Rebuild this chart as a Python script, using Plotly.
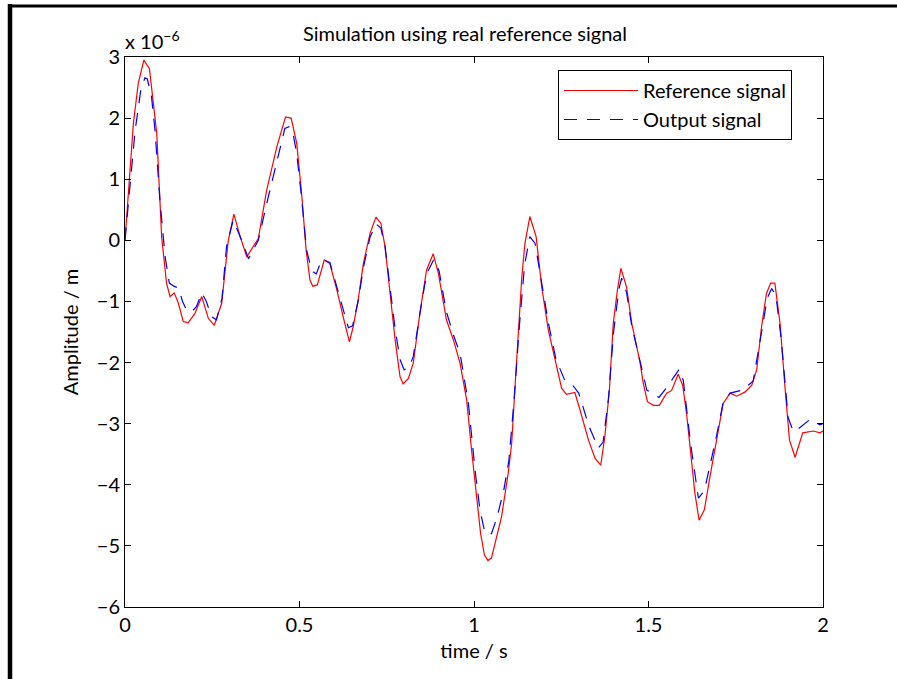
import plotly.graph_objects as go

# Reference signal (time in s, amplitude in 1e-6 m)
t_ref = [0, 0.014, 0.024, 0.038, 0.054, 0.07, 0.091, 0.105, 0.119, 0.129, 0.141, 0.153, 0.167, 0.181, 0.2, 0.22,
         0.239, 0.256, 0.277, 0.296, 0.312, 0.33, 0.349, 0.382, 0.406, 0.435, 0.46, 0.476, 0.492, 0.506, 0.519,
         0.53, 0.538, 0.551, 0.561, 0.571, 0.587, 0.607, 0.625, 0.643, 0.654, 0.668, 0.683, 0.702, 0.719, 0.733,
         0.745, 0.759, 0.774, 0.788, 0.797, 0.812, 0.826, 0.845, 0.864, 0.883, 0.898, 0.921, 0.941, 0.96, 0.979,
         0.993, 1.008, 1.019, 1.03, 1.04, 1.05, 1.065, 1.079, 1.098, 1.108, 1.117, 1.127, 1.137, 1.146, 1.16,
         1.178, 1.194, 1.213, 1.232, 1.251, 1.265, 1.289, 1.304, 1.328, 1.347, 1.363, 1.375, 1.388, 1.399, 1.411,
         1.421, 1.437, 1.452, 1.476, 1.485, 1.497, 1.514, 1.531, 1.552, 1.566, 1.585, 1.598, 1.609, 1.624, 1.633,
         1.645, 1.66, 1.676, 1.695, 1.714, 1.734, 1.753, 1.777, 1.796, 1.81, 1.824, 1.838, 1.85, 1.862, 1.877,
         1.891, 1.904, 1.92, 1.93, 1.942, 1.973, 1.991, 2.0]
y_ref = [0, 1.04, 1.91, 2.57, 2.95, 2.81, 1.75, 0.06, -0.70, -0.92, -0.86, -1.03, -1.33, -1.35, -1.2, -0.92,
         -1.28, -1.39, -1.03, 0.0, 0.43, 0.06, -0.27, 0.03, 0.82, 1.53, 2.02, 2.0, 1.59, 0.77, -0.16,
         -0.65, -0.75, -0.73, -0.54, -0.32, -0.38, -0.81, -1.25, -1.66, -1.41, -0.98, -0.38, 0.11, 0.38, 0.28,
         -0.1, -0.87, -1.63, -2.23, -2.35, -2.26, -2.01, -1.19, -0.49, -0.22, -0.54, -1.30, -1.63, -2.01, -2.61,
         -3.43, -4.25, -4.80, -5.15, -5.24, -5.2, -4.85, -4.52, -3.81, -3.32, -2.45, -1.52, -0.60, -0.05, 0.39,
         0.06, -0.76, -1.47, -1.96, -2.42, -2.52, -2.49, -2.78, -3.27, -3.57, -3.68, -3.21, -2.45, -1.36, -0.81,
         -0.46, -0.76, -1.36, -2.0, -2.34, -2.64, -2.70, -2.70, -2.50, -2.46, -2.19, -2.37, -2.83, -3.60, -4.14,
         -4.58, -4.41, -3.87, -3.27, -2.67, -2.50, -2.55, -2.48, -2.37, -2.12, -1.41, -0.87, -0.70, -0.70, -1.36,
         -2.40, -3.27, -3.55, -3.38, -3.15, -3.12, -3.15, -3.12]

# Output signal
t_out = [0, 0.014, 0.029, 0.045, 0.057, 0.064, 0.076, 0.086, 0.1, 0.115, 0.127, 0.14, 0.153, 0.165, 0.177, 0.191,
         0.205, 0.22, 0.233, 0.248, 0.262, 0.278, 0.291, 0.31, 0.33, 0.354, 0.382, 0.406, 0.435, 0.458, 0.47,
         0.48, 0.492, 0.506, 0.52, 0.535, 0.548, 0.564, 0.587, 0.607, 0.625, 0.64, 0.652, 0.668, 0.683, 0.702,
         0.719, 0.733, 0.745, 0.759, 0.774, 0.788, 0.8, 0.815, 0.826, 0.845, 0.864, 0.885, 0.9, 0.92, 0.941,
         0.96, 0.984, 1.003, 1.017, 1.03, 1.04, 1.05, 1.065, 1.085, 1.1, 1.115, 1.13, 1.145, 1.16, 1.175, 1.194,
         1.213, 1.235, 1.26, 1.28, 1.3, 1.33, 1.356, 1.37, 1.385, 1.4, 1.415, 1.423, 1.437, 1.452, 1.476, 1.495,
         1.53, 1.552, 1.588, 1.6, 1.62, 1.643, 1.66, 1.676, 1.695, 1.714, 1.734, 1.77, 1.8, 1.824, 1.84, 1.853,
         1.865, 1.88, 1.9, 1.915, 1.93, 1.963, 1.991, 2.0]
y_out = [0, 0.82, 1.8, 2.45, 2.66, 2.64, 2.35, 1.8, 0.66, -0.27, -0.70, -0.75, -0.78, -1.0, -1.15, -1.17,
         -1.08, -0.86, -1.0, -1.25, -1.30, -0.95, -0.1, 0.33, 0.06, -0.3, 0.0, 0.6, 1.31, 1.83, 1.86,
         1.8, 1.42, 0.7, -0.15, -0.5, -0.55, -0.31, -0.36, -0.75, -1.1, -1.43, -1.40, -1.0, -0.45, 0.05,
         0.27, 0.2, -0.1, -0.75, -1.45, -1.95, -2.12, -2.07, -1.9, -1.2, -0.55, -0.31, -0.5, -1.15, -1.55,
         -1.85, -2.67, -3.76, -4.41, -4.75, -4.82, -4.8, -4.55, -4.1, -3.6, -2.6, -1.4, -0.4, 0.06, -0.05, -0.7,
         -1.35, -1.95, -2.29, -2.35, -2.5, -3.05, -3.40, -3.3, -2.6, -1.5, -0.8, -0.62, -0.85, -1.4, -2.0, -2.45,
         -2.57, -2.41, -2.11, -2.3, -3.3, -4.22, -4.1, -3.7, -3.2, -2.65, -2.5, -2.45, -2.3, -1.5, -0.95, -0.79,
         -0.9, -1.6, -2.9, -3.13, -3.08, -2.93, -3.02, -3.0]

x_ticks = [0, 0.5, 1, 1.5, 2]
x_tick_text = ["0", "0.5", "1", "1.5", "2"]
y_ticks = [3, 2, 1, 0, -1, -2, -3, -4, -5, -6]
y_tick_text = ["3", "2", "1", "0", "\u22121", "\u22122", "\u22123", "\u22124", "\u22125", "\u22126"]

FONT = "Lato"
FS = 20

fig = go.Figure()
fig.add_trace(go.Scatter(x=t_ref, y=y_ref, mode="lines", name="Reference signal",
                         line=dict(color="#ff0000", width=1.2)))
fig.add_trace(go.Scatter(x=t_out, y=y_out, mode="lines", name="Output signal",
                         line=dict(color="#0000ff", width=1.2, dash="13px,10px")))

W, H = 897, 679
L, R, T, B = 125, 74, 57, 72
pw, ph = W - L - R, H - T - B


def px2x(px):
    return (px - L) / pw


def py2y(py):
    return (H - B - py) / ph


axis_common = dict(showgrid=False, zeroline=False, showline=True, linecolor="black", linewidth=1,
                   mirror="ticks", ticks="inside", ticklen=6, tickcolor="black",
                   tickfont=dict(family=FONT, size=FS, color="black"))

fig.update_layout(
    width=W, height=H,
    margin=dict(l=L, r=R, t=T, b=B),
    paper_bgcolor="white", plot_bgcolor="white",
    font=dict(family=FONT, size=FS, color="black"),
    title=dict(text="Simulation using real reference signal", xref="container", x=465 / W, xanchor="center",
               y=1 - 34 / H, yanchor="middle", font=dict(family=FONT, size=FS, color="black")),
    xaxis=dict(range=[0, 2], tickvals=x_ticks, ticktext=x_tick_text,
               title=dict(text="time / s", font=dict(family=FONT, size=FS), standoff=8), **axis_common),
    yaxis=dict(range=[-6, 3], tickvals=y_ticks, ticktext=y_tick_text,
               title=dict(text="Amplitude / m", font=dict(family=FONT, size=FS), standoff=12), **axis_common),
    showlegend=True,
    legend=dict(x=px2x(558), y=py2y(70), xanchor="left", yanchor="top",
                bgcolor="white", bordercolor="black", borderwidth=1,
                font=dict(family=FONT, size=FS, color="black"), itemwidth=74,
                tracegroupgap=0),
)

fig.add_annotation(text="x 10<sup>\u22126</sup>", xref="paper", yref="paper",
                   x=px2x(123), y=py2y(40), xanchor="left", yanchor="middle",
                   showarrow=False, font=dict(family=FONT, size=FS, color="black"))

# outer frame lines (left and top edges of the picture)
fig.add_shape(type="line", xref="paper", yref="paper",
              x0=px2x(10), x1=px2x(10), y0=py2y(4), y1=py2y(700),
              line=dict(color="black", width=4.5))
fig.add_shape(type="line", xref="paper", yref="paper",
              x0=px2x(8), x1=px2x(900), y0=py2y(6), y1=py2y(6),
              line=dict(color="black", width=3))

fig.write_html("out.html")
